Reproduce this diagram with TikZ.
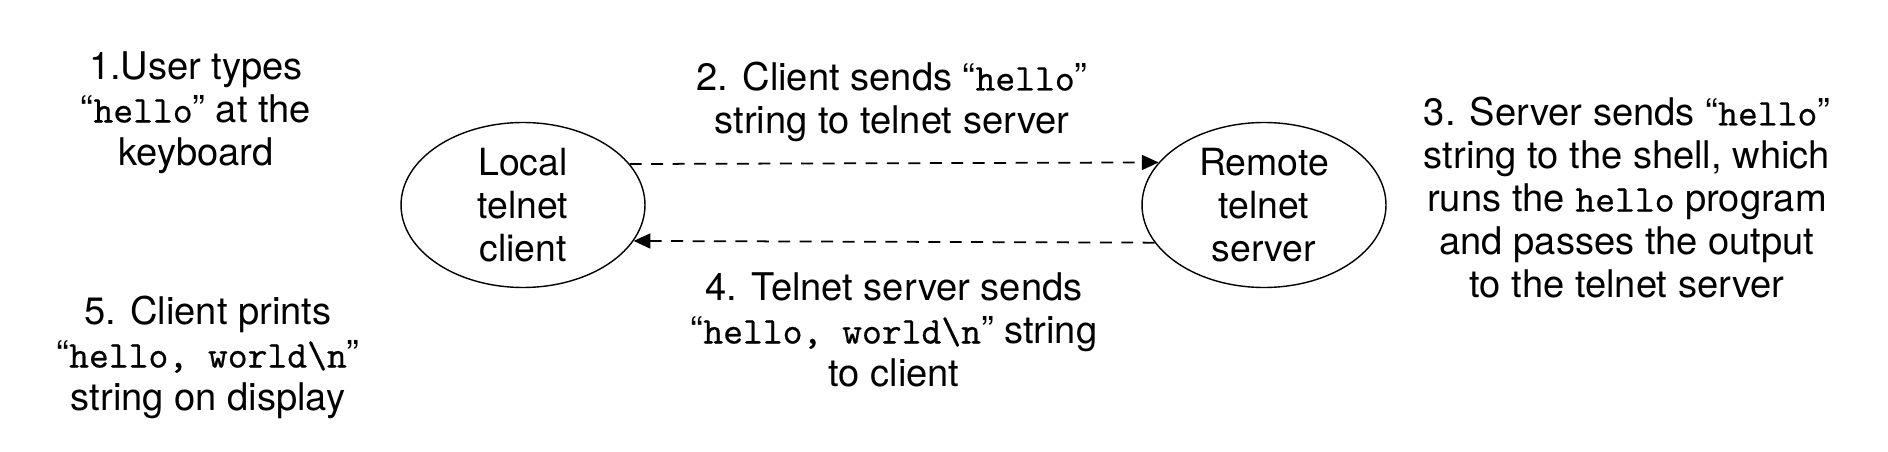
\documentclass[tikz,border=0pt]{standalone}
\usepackage{fontspec}
\setmainfont{TeX Gyre Heros}
\newfontfamily\ttb{lmmono10-regular.otf}[FakeBold=0.5]
\usetikzlibrary{shapes.geometric,arrows.meta}
\newcommand\tx[1]{{\fontsize{21.5}{24.5}\selectfont\ttb #1}}
\begin{document}
\begin{tikzpicture}[x=0.02cm,y=-0.02cm,
  lbl/.style={font=\fontsize{21.7}{24.5}\selectfont, align=center, inner sep=0pt, anchor=north},
  proc/.style={ellipse, draw, line width=0.8pt, minimum width=4.88cm, minimum height=3.3cm,
    inner sep=0pt, align=center, font=\fontsize{21.3}{24.5}\selectfont},
  msg/.style={line width=1pt, dash pattern=on 6.8pt off 5.4pt,
    -{Triangle[length=9.5pt,width=8.5pt]}}]
\useasboundingbox[fill=white] (0,0) rectangle (1888,452);

\node[proc] (L) at (523,205) {Local\\telnet\\client};
\node[proc] (R) at (1264,205) {Remote\\telnet\\server};

\draw[msg] (L.21.8) -- (R.158.2);
\draw[msg] (R.-161.25) -- (L.-18.75);

\node[lbl] (t1) at (196,49) {\strut1.User types\\“\tx{hello}” at the\\keyboard\strut};
\node[lbl] (t2) at (892,60) {\strut2. Client sends “\tx{hello}”\\string to telnet server\strut};
\node[lbl] (t3) at (1627,95) {\strut3. Server sends “\tx{hello}”\\string to the shell, which\\runs the \tx{hello} program\\and passes the output\\to the telnet server\strut};
\node[lbl] (t4) at (894,270) {\strut4. Telnet server sends\\“\tx{hello, world\textbackslash n}” string\\to client\strut};
\node[lbl] (t5) at (208,294) {\strut5. Client prints\\“\tx{hello, world\textbackslash n}”\\string on display\strut};
\end{tikzpicture}
\end{document}
